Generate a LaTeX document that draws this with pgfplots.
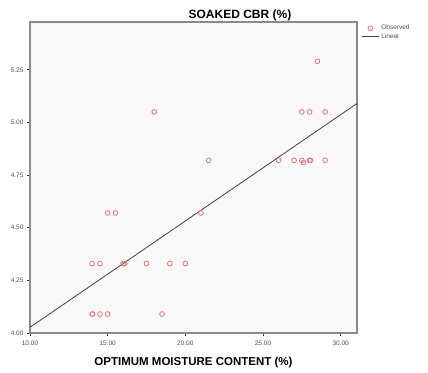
\documentclass[border=0pt]{standalone}
\usepackage{pgfplots}
\pgfplotsset{compat=1.18}
\usepackage{fontspec}
\setmainfont{Liberation Sans}
\definecolor{markred}{RGB}{224,120,120}
\definecolor{framegray}{HTML}{8A8A8A}
\definecolor{ticktext}{HTML}{505050}
\definecolor{bgfill}{HTML}{F8F8F8}
\begin{document}
\begin{tikzpicture}
\path[use as bounding box] (-30pt,-39pt) rectangle (398pt,333pt);
\begin{axis}[
  at={(0,0)}, anchor=south west,
  scale only axis, width=327pt, height=311pt,
  xmin=10, xmax=31.05, ymin=4, ymax=5.477,
  axis background/.style={fill=bgfill},
  axis line style={framegray, line width=1.2pt},
  xtick={10,15,20,25,30}, ytick={4,4.25,4.5,4.75,5,5.25},
  xticklabel style={yshift=-1pt, /pgf/number format/.cd, fixed, fixed zerofill, precision=2},
  yticklabel style={/pgf/number format/.cd, fixed, fixed zerofill, precision=2},
  /pgf/number format/assume math mode=true,
  tick label style={font=\fontsize{6.5}{7.5}\selectfont, text=ticktext},
  tick align=outside, tick pos=left, major tick length=3pt,
  tick style={black!80, line width=0.6pt},
  xlabel={\textbf{OPTIMUM MOISTURE CONTENT (\%)}},
  xlabel style={font=\fontsize{11.5}{13}\selectfont, yshift=-5pt},
  title={\textbf{SOAKED CBR (\%)}},
  title style={font=\fontsize{12}{14}\selectfont, at={(0.642,1)}, anchor=base, yshift=-3pt},
  legend style={at={(1.01,1.0)}, anchor=north west, draw=none, fill=none,
    font=\fontsize{6.5}{8}\selectfont, text=ticktext, row sep=-2pt, inner sep=1pt},
  legend cell align=left,
  clip=false,
]
\addplot[draw=markred, only marks, mark=o, mark size=2.4pt, mark options={draw=markred, fill=none, line width=0.8pt, solid}] coordinates {
(28.5,5.29)
(18,5.05) (27.5,5.05) (28,5.05) (29,5.05)
(21.5,4.82) (26,4.82) (27,4.82) (27.5,4.82) (27.6,4.81) (28,4.82) (28.05,4.82) (29,4.82)
(15,4.57) (15.5,4.57) (21,4.57)
(14,4.33) (14.5,4.33) (16,4.33) (16.1,4.33) (17.5,4.33) (19,4.33) (20,4.33)
(14,4.09) (14.03,4.09) (14.5,4.09) (15,4.09) (18.5,4.09)
};
\addlegendentry{Observed}
\addplot[color=black!75, line width=0.8pt] coordinates {(10,4.027) (31.05,5.09)};
\addlegendentry{Linear}
\end{axis}
\end{tikzpicture}
\end{document}
